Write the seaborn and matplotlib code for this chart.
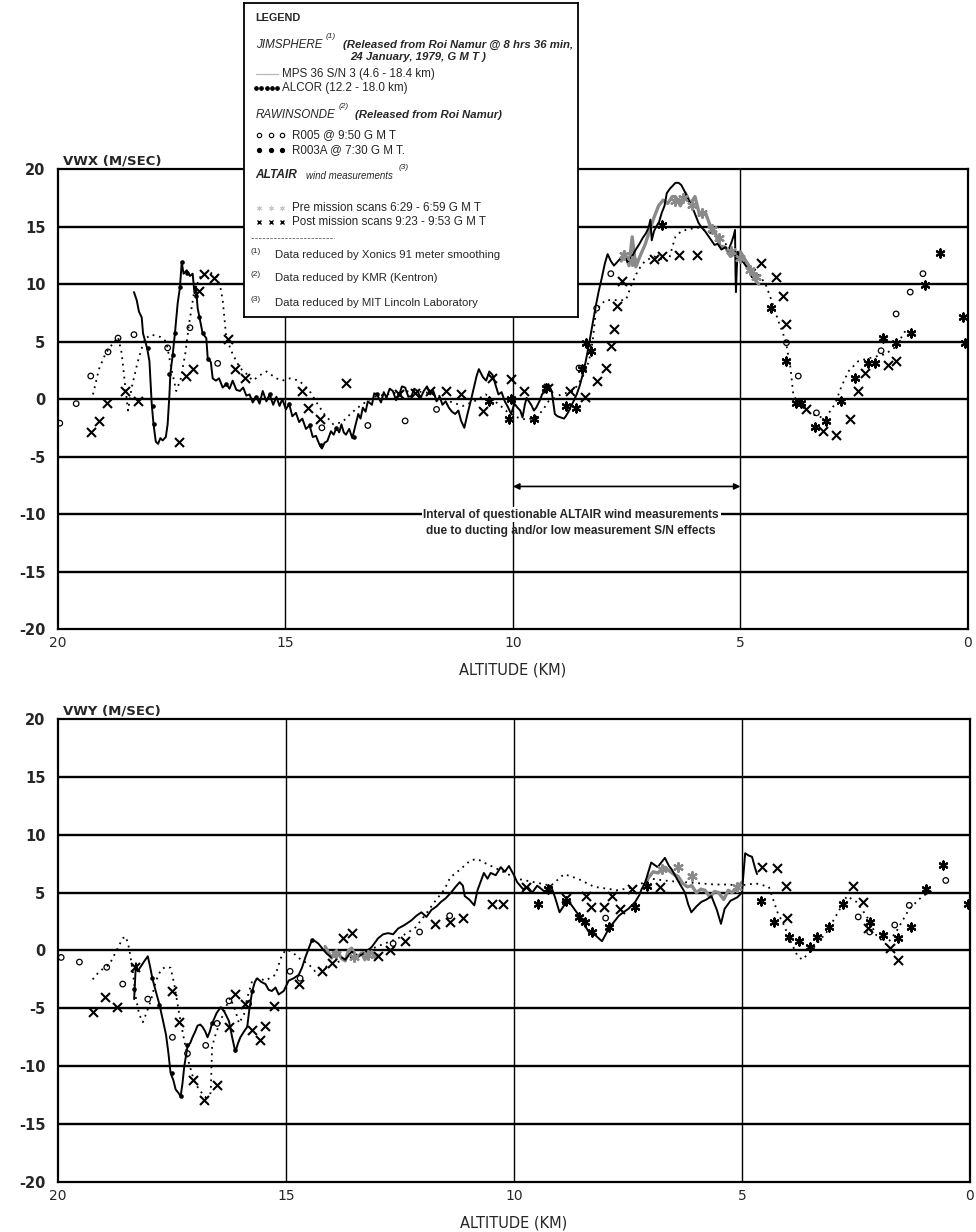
import numpy as np
import pandas as pd
import matplotlib
matplotlib.use("Agg")
import matplotlib.pyplot as plt
import seaborn as sns

# ---------------------------------------------------------------------------
# Wind profiles over Roi Namur, 24 January 1979  (altitude km, wind m/s)
# ---------------------------------------------------------------------------

# ---- VWX component -------------------------------------------------------
vwx_mps = [(18.33,9.3),(18.27,8.6),(18.22,7.6),(18.16,7.1),(18.13,5.7),(18.04,4.4),(17.99,3.3),(17.94,-0.4),
           (17.90,-2.2),(17.85,-3.7),(17.80,-3.9),(17.75,-3.4),(17.70,-3.6),(17.63,-3.3),(17.59,-2.2),(17.55,0.4),
           (17.53,2.2),(17.48,3.8),(17.43,5.7),(17.37,8.3),(17.32,9.7),(17.28,11.9),(17.24,10.9),(17.17,11.2),
           (17.10,10.7),(17.04,10.9),(17.00,9.2),(16.97,9.8),(16.93,7.9),(16.89,7.1),(16.82,5.7),(16.74,5.3),
           (16.71,3.6),(16.64,3.2),(16.60,1.8),(16.53,1.6),(16.46,1.8),(16.38,1.0),(16.30,1.3),(16.23,0.9),
           (16.16,1.6),(16.08,0.8),(16.00,0.7),(15.93,1.0),(15.86,0.3),(15.79,0.4),(15.72,-0.3),(15.64,0.2),
           (15.57,-0.4),(15.50,0.7),(15.42,-0.2),(15.35,0.4),(15.27,-0.5),(15.20,0.2),(15.13,-0.6),(15.07,0.0),
           (14.99,-0.9),(14.92,-0.4),(14.85,-1.5),(14.77,-1.2),(14.70,-2.0),(14.63,-1.7),(14.55,-2.6),(14.47,-2.3),
           (14.40,-3.3),(14.33,-3.2),(14.26,-3.9),(14.20,-4.3),(14.14,-3.8),(14.08,-3.65),(14.00,-2.8),(13.94,-3.1),
           (13.88,-2.5),(13.82,-2.9),(13.77,-2.2),(13.72,-2.9),(13.67,-3.1),(13.60,-2.6),(13.53,-3.4),(13.47,-2.4),
           (13.40,-1.3),(13.35,-1.7),(13.30,-0.75),(13.24,-1.1),(13.19,-0.2),(13.10,-0.5),(13.05,0.5),(12.99,0.4),
           (12.90,-0.3),(12.84,0.6),(12.78,0.1),(12.71,0.9),(12.64,0.7),(12.57,-0.1),(12.50,0.4),(12.44,1.1),
           (12.37,1.0),(12.30,0.2),(12.23,0.26),(12.17,0.9),(12.10,0.7),(12.03,0.1),(11.96,0.7),(11.89,1.1),
           (11.82,0.4),(11.75,0.7),(11.68,-0.2),(11.61,0.2),(11.55,-0.5),(11.48,-0.2),(11.41,-0.75),(11.34,-1.1),
           (11.27,-1.3),(11.20,-1.0),(11.14,-1.9),(11.07,-2.5),(11.00,-1.3),(10.93,-0.2),(10.86,1.0),(10.80,2.0),
           (10.75,2.6),(10.70,2.2),(10.66,1.9),(10.59,1.6),(10.52,2.4),(10.45,2.1),(10.38,1.2),(10.32,0.4),
           (10.25,0.6),(10.18,-0.2),(10.11,-0.7),(10.04,-1.3),(9.97,-0.4),(9.90,-0.75),(9.84,-1.0),(9.79,-1.6),
           (9.74,-0.5),(9.70,0.1),(9.65,-0.2),(9.60,-0.5),(9.54,-1.0),(9.49,-0.75),(9.42,-0.2),(9.36,0.4),
           (9.29,0.8),(9.22,1.3),(9.15,0.7),(9.08,-1.3),(9.02,-1.5),(8.95,-1.6),(8.88,-1.7),(8.84,-1.5),
           (8.78,-1.1),(8.74,-0.75),(8.67,-0.2),(8.60,0.4),(8.53,1.2),(8.47,2.1),(8.40,3.3),(8.33,4.75),
           (8.26,6.3),(8.19,7.9),(8.12,9.3),(8.05,10.5),(7.98,11.8),(7.92,12.6),(7.85,12.0),(7.78,11.6),
           (7.68,12.05),(7.60,12.4),(7.55,12.5),(7.48,11.9),(7.40,12.3),(7.30,13.0),(7.22,13.5),(7.15,14.0),
           (7.08,14.4),(7.02,14.9),(6.98,15.6),(6.95,13.8),(6.90,14.6),(6.85,15.0),(6.79,15.4),(6.73,16.2),
           (6.67,16.8),(6.62,17.9),(6.55,18.3),(6.50,18.5),(6.43,18.8),(6.36,18.8),(6.30,18.6),(6.22,18.0),
           (6.14,17.3),(6.08,16.8),(6.03,16.4),(5.97,15.8),(5.92,15.3),(5.85,14.9),(5.78,14.6),(5.71,14.2),
           (5.64,13.8),(5.57,13.4),(5.50,13.5),(5.42,13.0),(5.33,13.2),(5.27,12.9),(5.20,13.6),(5.15,14.2),
           (5.12,14.7),(5.11,11.0),(5.10,9.3),(5.08,11.5),(5.06,12.8),(5.02,12.4),(4.98,12.1),(4.92,11.8),
           (4.85,11.4),(4.79,11.0),(4.75,10.6)]

vwx_premission = [(7.62,12.0),(7.55,12.8),(7.45,11.6),(7.38,14.1),(7.30,11.5),(7.20,12.5),(7.10,13.4),(7.00,14.6),
                  (6.90,15.8),(6.80,16.8),(6.70,17.3),(6.60,17.0),(6.50,17.6),(6.43,17.6),(6.32,16.8),(6.21,17.9),
                  (6.10,17.0),(6.00,17.6),(5.90,16.0),(5.77,16.2),(5.66,15.0),(5.55,14.4),(5.45,13.3),(5.33,13.2),
                  (5.22,12.4),(5.11,12.7),(5.00,12.8),(4.89,12.05),(4.78,11.4),(4.67,10.3),(4.60,10.0)]
vwx_premission_pts = [(7.55,12.5),(7.38,12.0),(6.43,17.2),(6.27,17.5),(6.06,16.9),(5.85,16.2),(5.62,14.8),
                      (5.48,14.0),(5.20,12.9),(5.00,12.3),(4.80,11.2),(4.67,10.6)]

vwx_r003a = [(19.23,0.4),(19.10,2.6),(18.95,4.0),(18.80,4.8),(18.68,5.4),(18.60,4.0),(18.52,1.0),(18.46,-1.0),
             (18.38,1.0),(18.25,3.2),(18.10,5.2),(17.95,5.6),(17.75,5.4),(17.62,5.0),(17.50,2.5),(17.40,0.7),
             (17.30,1.8),(17.20,4.0),(17.12,6.5),(17.00,9.5),(16.85,10.8),(16.65,11.0),(16.50,10.6),(16.42,9.5),
             (16.38,8.6),(16.30,5.3),(16.16,3.9),(16.00,2.7),(15.86,2.2),(15.72,1.6),(15.55,2.1),(15.42,2.4),
             (15.20,1.8),(15.07,1.6),(14.90,1.8),(14.70,1.6),(14.47,0.7),(14.30,-0.4),(14.15,-1.3),(13.95,-2.2),
             (13.75,-2.0),(13.55,-1.2),(13.33,-0.5),(13.05,0.2),(12.78,0.4),(12.50,0.6),(12.23,0.7),(11.95,0.6),
             (11.68,0.4),(11.40,-0.2),(11.10,-0.6),(10.85,-0.2),(10.60,0.4),(10.30,-0.5),(10.10,-1.2),(9.90,-1.6),
             (9.70,-1.8),(9.50,-1.6),(9.35,-1.0),(9.22,-0.2),(8.95,0.4),(8.67,0.7),(8.47,1.9),(8.33,3.3),
             (8.25,5.0),(8.18,7.6),(8.05,8.3),(7.96,8.6),(7.75,8.6),(7.52,8.6),(7.39,10.0),(7.25,11.2),
             (7.10,12.0),(6.90,12.4),(6.70,12.1),(6.58,12.0),(6.50,13.2),(6.43,14.1),(6.30,14.6),(6.10,14.8),
             (5.92,14.9),(5.64,14.4),(5.33,13.5),(5.04,12.3),(4.67,11.2),(4.45,10.0),(4.32,8.6),(4.17,6.8),
             (4.01,5.1),(3.90,2.7),(3.84,0.4),(3.73,-0.4),(3.44,-1.3),(3.14,-1.7),(2.92,-0.4),(2.79,1.0),
             (2.63,2.4),(2.41,3.3),(2.13,3.6),(1.82,3.9),(1.60,4.5),(1.38,5.9)]

vwx_r005 = [(19.96,-2.1),(19.60,-0.4),(19.28,2.0),(18.90,4.1),(18.68,5.3),(18.33,5.6),(17.59,4.45),(17.10,6.2),
            (16.49,3.1),(14.20,-2.5),(13.19,-2.3),(12.37,-1.9),(11.68,-0.9),(8.55,2.7),(8.16,7.9),(7.85,10.9),
            (3.99,4.9),(3.73,2.0),(3.33,-1.2),(1.91,4.2),(1.58,7.4),(1.27,9.3),(0.99,10.9)]

vwx_postmission = [(19.28,-2.9),(19.10,-1.9),(18.92,-0.35),(18.53,0.7),(18.24,-0.2),(17.34,-3.75),(17.19,2.0),
                   (17.04,2.6),(16.89,9.4),(16.78,10.9),(16.56,10.5),(16.27,5.2),(16.12,2.6),(15.90,1.8),
                   (14.63,0.7),(14.50,-0.8),(14.25,-1.75),(13.67,1.4),(12.50,0.4),(12.16,0.55),(11.82,0.7),
                   (11.48,0.7),(11.14,0.4),(10.66,-1.0),(10.46,1.8),(10.04,1.7),(9.76,0.7),(9.22,1.0),(8.74,0.7),
                   (8.42,0.2),(8.16,1.6),(7.96,2.7),(7.85,4.6),(7.78,6.1),(7.72,8.1),(7.60,10.3),(6.90,12.2),
                   (6.73,12.4),(6.36,12.5),(5.96,12.5),(4.56,11.8),(4.23,10.6),(4.06,9.0),(4.01,6.5),(3.55,-0.9),
                   (3.18,-2.8),(2.89,-3.1),(2.59,-1.7),(2.41,0.7),(2.26,2.3),(1.75,3.0),(1.58,3.3)]

vwx_asterisk = [(10.53,-0.2),(10.09,-1.75),(10.04,0.0),(9.54,-1.75),(9.28,1.0),(8.84,-0.6),(8.62,-0.8),(8.49,2.6),
                (8.40,4.9),(8.29,4.2),(6.73,15.1),(4.32,7.9),(4.01,3.3),(3.79,-0.35),(3.68,-0.35),(3.36,-2.4),
                (3.11,-1.9),(2.79,-0.2),(2.48,1.8),(2.19,3.1),(2.04,3.1),(1.86,5.3),(1.58,4.9),(1.25,5.7),
                (0.94,9.9),(0.61,12.7),(0.11,7.1),(0.07,4.9)]

vwx_alcor = [(18.03,4.4),(17.92,-0.6),(17.88,-2.2),(17.55,2.2),(17.48,3.8),(17.43,5.7),(17.32,9.7),(17.28,11.9),
             (17.17,11.0),(16.96,9.0),(16.89,7.1),(16.82,5.7),(16.70,3.5),(16.30,1.3),(15.64,0.2),(15.35,0.4),
             (14.92,-0.4),(14.47,-2.3),(14.22,-4.0),(13.90,-2.5),(13.50,-3.3),(12.99,0.4),(12.50,0.4)]

# ---- VWY component -------------------------------------------------------
vwy_mps = [(18.33,-4.2),(18.29,-1.1),(18.25,-1.8),(18.22,-1.6),(18.12,-1.0),(18.03,-0.5),(17.98,-1.4),(17.93,-2.4),
           (17.85,-3.6),(17.78,-4.6),(17.70,-6.0),(17.63,-7.3),(17.58,-8.8),(17.53,-10.6),(17.47,-11.2),(17.42,-12.0),
           (17.36,-12.3),(17.31,-12.6),(17.27,-11.5),(17.23,-10.0),(17.16,-8.3),(17.10,-8.0),(17.05,-7.5),(16.99,-7.0),
           (16.94,-6.5),(16.88,-6.4),(16.83,-6.6),(16.77,-7.0),(16.72,-7.5),(16.67,-7.0),(16.62,-6.3),(16.52,-5.4),
           (16.43,-4.9),(16.35,-5.3),(16.25,-6.1),(16.18,-7.5),(16.11,-8.75),(16.05,-8.0),(16.00,-7.5),(15.92,-7.0),
           (15.85,-6.6),(15.80,-5.0),(15.74,-3.5),(15.68,-2.7),(15.63,-2.4),(15.55,-2.7),(15.45,-2.9),(15.38,-3.4),
           (15.31,-3.5),(15.23,-3.2),(15.16,-3.8),(15.05,-3.5),(14.94,-2.6),(14.83,-2.4),(14.72,-2.1),(14.65,-1.5),
           (14.58,-0.65),(14.50,0.2),(14.43,0.9),(14.36,0.8),(14.29,0.6),(14.18,0.06),(14.10,-0.3),(14.00,-0.6),
           (13.85,-0.4),(13.70,-0.8),(13.56,-0.1),(13.41,-0.5),(13.27,-0.2),(13.12,0.3),(12.98,1.05),(12.87,1.4),
           (12.76,1.5),(12.65,1.4),(12.54,1.9),(12.40,2.2),(12.25,2.6),(12.14,3.0),(12.03,3.3),(11.92,2.9),
           (11.81,3.5),(11.70,3.8),(11.60,4.2),(11.50,4.5),(11.38,5.0),(11.28,5.5),(11.19,5.9),(11.12,5.6),
           (11.08,4.7),(10.98,4.4),(10.87,3.9),(10.80,5.2),(10.66,6.7),(10.58,6.2),(10.51,6.7),(10.40,6.5),
           (10.29,7.2),(10.20,6.8),(10.11,7.3),(10.00,6.5),(9.93,5.9),(9.80,5.3),(9.70,5.5),(9.60,5.0),
           (9.49,5.6),(9.30,5.0),(9.19,5.6),(9.10,4.6),(9.00,3.3),(8.90,3.9),(8.79,4.2),(8.68,3.6),
           (8.57,3.0),(8.45,2.2),(8.36,1.6),(8.21,1.3),(8.07,0.8),(8.00,1.3),(7.92,1.9),(7.80,2.5),
           (7.70,3.0),(7.60,3.3),(7.49,3.6),(7.34,4.2),(7.25,4.8),(7.20,5.3),(7.12,5.9),(6.99,7.6),
           (6.85,7.2),(6.69,8.0),(6.60,7.3),(6.54,7.0),(6.40,6.0),(6.25,5.0),(6.18,4.0),(6.11,3.3),
           (6.00,3.8),(5.89,4.2),(5.78,4.4),(5.67,4.7),(5.55,3.5),(5.46,2.3),(5.38,3.6),(5.25,4.3),
           (5.10,4.6),(5.00,5.0),(4.93,8.4),(4.85,8.2),(4.78,8.1),(4.71,7.1),(4.67,6.6)]

vwy_premission = [(14.14,0.34),(14.05,-0.3),(14.00,-0.65),(13.92,-0.1),(13.85,-0.2),(13.78,-0.7),(13.70,-0.9),
                  (13.63,0.0),(13.56,0.2),(13.48,-0.4),(13.41,-0.5),(13.34,-0.2),(13.27,-0.8),(13.20,-0.3),
                  (13.12,-0.1),(13.05,-0.6),(12.98,-0.4)]
vwy_premission_b = [(7.10,6.0),(6.95,6.8),(6.84,6.7),(6.70,7.2),(6.60,6.9),(6.50,6.6),(6.40,6.4),(6.30,5.8),
                    (6.20,5.5),(6.10,5.6),(6.00,5.0),(5.90,5.3),(5.81,5.2),(5.70,4.6),(5.60,5.1),(5.51,5.0),
                    (5.40,4.4),(5.30,5.2),(5.22,5.0),(5.10,5.4),(5.00,5.9)]
vwy_premission_pts = [(13.9,-0.3),(13.5,-0.6),(13.2,-0.4),(6.75,7.0),(6.40,7.2),(6.10,6.4),(5.10,5.5)]

vwy_r003a = [(19.24,-2.5),(19.09,-1.8),(18.87,-1.2),(18.69,0.2),(18.58,1.05),(18.51,1.2),(18.44,0.2),(18.36,-1.8),
             (18.29,-4.1),(18.22,-5.5),(18.14,-6.2),(18.07,-5.5),(17.96,-4.3),(17.85,-2.6),(17.74,-1.65),(17.63,-1.4),
             (17.53,-1.5),(17.45,-2.9),(17.34,-5.5),(17.23,-7.8),(17.13,-9.7),(17.02,-11.2),(16.91,-12.0),(16.76,-12.7),
             (16.65,-12.3),(16.62,-8.3),(16.54,-7.2),(16.43,-6.05),(16.32,-4.9),(16.22,-4.1),(16.10,-5.3),(16.03,-6.3),
             (15.92,-5.5),(15.85,-4.1),(15.74,-2.6),(15.60,-2.4),(15.45,-2.6),(15.23,-2.1),(15.09,-0.4),(15.00,0.06),
             (14.87,-0.1),(14.72,-0.65),(14.50,-1.2),(14.36,-1.8),(14.00,-1.2),(13.63,-0.65),(13.27,-0.1),(12.90,0.5),
             (12.54,1.05),(12.18,1.9),(11.96,3.0),(11.74,4.2),(11.52,5.3),(11.40,6.3),(11.18,7.0),(10.95,7.8),
             (10.80,7.9),(10.66,7.6),(10.29,6.9),(9.93,6.2),(9.56,5.9),(9.19,5.6),(8.90,6.6),(8.60,6.2),
             (8.24,5.5),(7.72,5.2),(7.35,5.5),(6.99,6.2),(6.60,6.0),(6.25,5.9),(5.59,5.7),(5.29,5.7),
             (5.07,5.6),(4.70,5.8),(4.41,5.5),(4.22,3.3),(4.08,2.2),(3.93,0.77),(3.79,-0.4),(3.68,-0.8),
             (3.50,-0.1),(3.14,1.6),(2.85,3.6),(2.70,4.7),(2.49,4.2),(2.27,3.0),(2.05,1.3),(1.83,0.5),
             (1.62,1.6),(1.33,3.6),(1.04,4.7),(0.75,5.3)]

vwy_r005 = [(19.93,-0.6),(19.53,-1.0),(18.93,-1.45),(18.58,-2.9),(18.03,-4.2),(17.49,-7.5),(17.16,-8.9),(16.76,-8.2),
            (16.51,-6.3),(16.25,-4.35),(15.82,-4.6),(14.91,-1.8),(14.69,-2.4),(12.65,0.6),(12.07,1.6),(11.41,3.0),
            (7.99,2.8),(2.45,2.9),(2.20,1.6),(1.65,2.2),(1.33,3.9),(0.53,6.05)]

vwy_postmission = [(19.24,-5.3),(18.96,-4.0),(18.71,-4.9),(18.30,-1.4),(17.50,-3.5),(17.34,-6.2),(17.04,-11.2),
                   (16.80,-12.9),(16.51,-11.6),(16.25,-6.6),(16.12,-3.8),(15.89,-4.6),(15.74,-6.9),(15.56,-7.7),
                   (15.45,-6.5),(15.27,-4.8),(14.72,-2.9),(14.21,-1.8),(14.00,-1.1),(13.74,1.05),(13.56,1.5),
                   (12.98,-0.5),(12.72,0.06),(12.40,0.8),(11.74,2.3),(11.41,2.5),(11.12,2.8),(10.49,4.0),
                   (10.24,4.0),(9.73,5.5),(8.86,4.5),(8.43,4.7),(8.32,3.75),(8.03,3.75),(7.85,4.7),(7.67,3.6),
                   (7.41,5.3),(6.80,5.5),(4.56,7.2),(4.23,7.1),(4.04,5.6),(4.01,2.8),(2.56,5.6),(2.34,4.2),
                   (2.23,1.9),(1.76,0.2),(1.58,-0.8)]

vwy_asterisk = [(9.48,4.0),(9.26,5.3),(8.86,4.3),(8.57,2.9),(8.45,2.5),(8.28,1.6),(7.92,2.0),(7.34,3.75),(7.09,5.6),
                (4.59,4.3),(4.30,2.5),(3.97,1.2),(3.75,0.8),(3.50,0.3),(3.36,1.2),(3.10,2.0),(2.78,4.0),(2.20,2.5),
                (1.91,1.3),(1.58,1.05),(1.29,2.05),(0.96,5.3),(0.59,7.4),(0.04,4.0)]

vwy_alcor = [(18.33,-3.35),(17.93,-2.4),(17.78,-4.7),(17.50,-10.6),(17.31,-12.6),(17.16,-8.2),(16.62,-6.3),
             (16.11,-8.6),(15.74,-3.5),(14.43,0.9)]

altitude_ticks = [20, 15, 10, 5, 0]
wind_ticks = [-20, -15, -10, -5, 0, 5, 10, 15, 20]

# ---------------------------------------------------------------------------
sns.set_style("white")
plt.rcParams["font.family"] = ["DejaVu Sans"]
NARROW = ["Liberation Sans Narrow", "Liberation Sans", "DejaVu Sans"]
GRAY = "#8a8a8a"


def frame(pts):
    return pd.DataFrame(pts, columns=["alt", "v"])


def trace(ax, pts, **kw):
    sns.lineplot(data=frame(pts), x="alt", y="v", sort=False, estimator=None, ax=ax, **kw)


def marks(ax, pts, **kw):
    sns.scatterplot(data=frame(pts), x="alt", y="v", ax=ax, legend=False, **kw)


def style_panel(ax, title):
    ax.set_xlim(20, 0)
    ax.set_ylim(-20, 20)
    ax.set_xticks(altitude_ticks)
    ax.set_yticks(wind_ticks)
    ax.set_xticklabels([str(t) for t in altitude_ticks], fontsize=10)
    ax.set_yticklabels([str(t) for t in wind_ticks], fontsize=10.5, fontweight="bold")
    ax.tick_params(axis="both", length=0)
    ax.tick_params(axis="y", pad=9)
    ax.tick_params(axis="x", pad=5)
    for t in wind_ticks[1:-1]:
        ax.axhline(t, color="black", lw=1.7, zorder=1)
    for t in altitude_ticks[1:-1]:
        ax.axvline(t, color="black", lw=1.0, zorder=1)
    for sp in ax.spines.values():
        sp.set_color("black")
        sp.set_linewidth(1.6)
    ax.set_ylabel("")
    ax.set_xlabel("ALTITUDE (KM)", fontsize=10.5)
    ax.xaxis.set_label_coords(0.5, -0.072)
    ax.text(0.006, 1.004, title, transform=ax.transAxes, ha="left", va="bottom",
            fontsize=9.5, fontweight="bold")


def draw_component(ax, mps, pre_lines, pre_pts, r003a, r005, post, star, alcor):
    trace(ax, r003a, color="black", lw=1.3, linestyle=(0, (1, 2.6)), zorder=3)
    for seg in pre_lines:
        trace(ax, seg, color=GRAY, lw=2.4, zorder=4)
    trace(ax, mps, color="black", lw=1.4, zorder=5)
    marks(ax, alcor, marker="o", s=11, color="black", linewidth=0, zorder=6)
    marks(ax, pre_pts, marker=(6, 2, 0), s=40, color=GRAY, linewidth=1.6, zorder=6)
    marks(ax, r005, marker="o", s=16, facecolor="none", edgecolor="black", linewidth=0.9, zorder=6)
    marks(ax, post, marker="x", s=42, color="black", linewidth=1.5, zorder=6)
    marks(ax, star, marker=(6, 2, 0), s=34, color="black", linewidth=1.6, zorder=6)


fig = plt.figure(figsize=(9.76, 12.32), dpi=100)
ax1 = fig.add_axes([0.0594, 0.4894, 0.9324, 0.3734])
ax2 = fig.add_axes([0.0594, 0.0406, 0.9344, 0.3758])

draw_component(ax1, vwx_mps, [vwx_premission], vwx_premission_pts, vwx_r003a, vwx_r005,
               vwx_postmission, vwx_asterisk, vwx_alcor)
draw_component(ax2, vwy_mps, [vwy_premission, vwy_premission_b], vwy_premission_pts, vwy_r003a, vwy_r005,
               vwy_postmission, vwy_asterisk, vwy_alcor)
style_panel(ax1, "VWX (M/SEC)")
style_panel(ax2, "VWY (M/SEC)")

# questionable-measurement interval
ax1.annotate("", xy=(5, -7.6), xytext=(10, -7.6),
             arrowprops=dict(arrowstyle="<|-|>", color="black", lw=1.2, mutation_scale=9,
                             shrinkA=0, shrinkB=0), zorder=7)
ax1.text(8.72, -10.05, "Interval of questionable ALTAIR wind measurements", ha="center", va="center",
         fontsize=8.6, fontweight="bold", family=["Liberation Sans", "DejaVu Sans"], zorder=8,
         bbox=dict(fc="white", ec="none", pad=1.2))
ax1.text(8.72, -11.45, "due to ducting and/or low measurement S/N effects", ha="center", va="center",
         fontsize=8.6, fontweight="bold", family=["Liberation Sans", "DejaVu Sans"], zorder=8)

# ---------------------------------------------------------------------------
# legend box
leg = fig.add_axes([0.25, 0.7427, 0.342, 0.2549])
leg.set_xlim(0, 1)
leg.set_ylim(0, 1)
leg.set_xticks([])
leg.set_yticks([])
leg.set_facecolor("white")
for sp in leg.spines.values():
    sp.set_color("black")
    sp.set_linewidth(1.3)


def ltext(x, y, s, size=8.4, **kw):
    leg.text(x, y, s, fontsize=size, family=NARROW, ha="left", va="center", **kw)


ltext(0.035, 0.952, "LEGEND", size=7.8, fontweight="bold")
ltext(0.035, 0.866, "JIMSPHERE", size=8.4, style="italic")
ltext(0.243, 0.892, "(1)", size=6.0, style="italic")
ltext(0.296, 0.866, "(Released from Roi Namur @ 8 hrs 36 min,", size=8.2, style="italic", fontweight="bold")
ltext(0.317, 0.828, "24 January, 1979, G M T )", size=8.2, style="italic", fontweight="bold")
leg.plot([0.035, 0.102], [0.774, 0.774], color="#b8b8b8", lw=0.9)
ltext(0.114, 0.774, "MPS 36 S/N 3 (4.6 - 18.4 km)")
leg.plot(np.linspace(0.035, 0.100, 5), [0.729] * 5, "o", color="black", ms=2.4)
ltext(0.114, 0.729, "ALCOR (12.2 - 18.0 km)")
ltext(0.035, 0.643, "RAWINSONDE", size=8.4, style="italic")
ltext(0.282, 0.669, "(2)", size=6.0, style="italic")
ltext(0.334, 0.643, "(Released from Roi Namur)", size=8.2, style="italic", fontweight="bold")
leg.plot([0.045, 0.08, 0.115], [0.58] * 3, "o", mfc="none", mec="black", ms=3.2, mew=0.8)
ltext(0.144, 0.58, "R005 @ 9:50 G M T")
leg.plot([0.045, 0.08, 0.115], [0.532] * 3, "o", color="black", ms=2.8)
ltext(0.144, 0.532, "R003A @ 7:30 G M T.")
ltext(0.035, 0.452, "ALTAIR", size=8.6, style="italic", fontweight="bold")
ltext(0.185, 0.450, "wind measurements", size=7.0, style="italic")
ltext(0.462, 0.476, "(3)", size=6.0, style="italic")
leg.plot([0.045, 0.08, 0.115], [0.347] * 3, marker=(6, 2, 0), ls="none", color="#c8c8c8", ms=3.8, mew=0.7)
ltext(0.144, 0.347, "Pre mission scans 6:29 - 6:59 G M T")
leg.plot([0.045, 0.08, 0.115], [0.303] * 3, marker="x", ls="none", color="black", ms=3.2, mew=1.0)
ltext(0.144, 0.303, "Post mission scans 9:23 - 9:53 G M T")
leg.plot([0.02, 0.27], [0.252, 0.252], color="#606060", lw=0.6, linestyle=(0, (3, 1.5)))
ltext(0.018, 0.207, "(1)", size=6.0)
ltext(0.093, 0.197, "Data reduced by Xonics 91 meter smoothing", size=8.2)
ltext(0.018, 0.134, "(2)", size=6.0)
ltext(0.093, 0.124, "Data reduced by KMR (Kentron)", size=8.2)
ltext(0.018, 0.055, "(3)", size=6.0)
ltext(0.093, 0.045, "Data reduced by MIT Lincoln Laboratory", size=8.2)

fig.savefig("out.png", dpi=100, facecolor="white")
